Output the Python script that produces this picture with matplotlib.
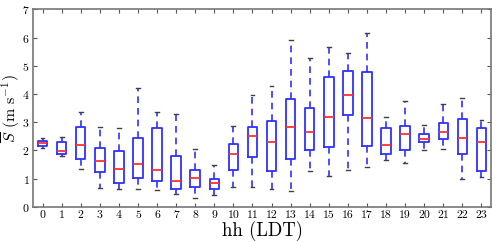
import matplotlib
matplotlib.use("Agg")
import matplotlib.pyplot as plt

# hourly wind speed box stats
hours = list(range(24))
whislo = [2.10, 1.81, 1.35, 0.66, 0.63, 0.64, 0.59, 0.46, 0.31, 0.43, 0.70, 0.72,
          0.63, 0.57, 1.28, 1.10, 1.30, 1.43, 1.67, 1.57, 2.02, 2.06, 0.98, 1.05]
q1 = [2.17, 1.87, 1.70, 1.24, 0.85, 1.03, 0.91, 0.63, 0.71, 0.65, 1.31, 1.76,
      1.29, 1.71, 2.03, 2.13, 3.27, 2.16, 1.87, 2.00, 2.29, 2.42, 1.87, 1.28]
med = [2.27, 1.99, 2.20, 1.64, 1.34, 1.52, 1.30, 0.93, 1.03, 0.84, 1.86, 2.52,
       2.30, 2.84, 2.65, 3.20, 3.96, 3.16, 2.21, 2.58, 2.41, 2.64, 2.44, 2.30]
q3 = [2.33, 2.30, 2.84, 2.08, 1.97, 2.46, 2.78, 1.82, 1.31, 1.00, 2.22, 2.85,
      3.03, 3.82, 3.49, 4.59, 4.83, 4.79, 2.81, 2.88, 2.59, 2.98, 3.11, 2.79]
whishi = [2.45, 2.48, 3.35, 2.83, 2.78, 4.21, 3.37, 3.30, 2.06, 1.50, 2.88, 3.96,
          4.30, 5.91, 5.28, 5.67, 5.45, 6.17, 3.19, 3.77, 2.91, 3.66, 3.87, 3.09]

plt.rcParams['font.family'] = 'cmr10'
plt.rcParams['mathtext.fontset'] = 'cm'
plt.rcParams['axes.formatter.use_mathtext'] = True

stats = []
for h, lo, a, m, b, hi in zip(hours, whislo, q1, med, q3, whishi):
    stats.append({'label': str(h), 'whislo': lo, 'q1': a, 'med': m, 'q3': b, 'whishi': hi, 'fliers': []})

fig = plt.figure(figsize=(5, 2.42), dpi=100)
ax = fig.add_axes([0.066, 0.145, 0.916, 0.816])

ax.bxp(stats, positions=hours, widths=0.5, showfliers=False,
       boxprops=dict(color='#3030ff', linewidth=1.3),
       medianprops=dict(color='#ff3030', linewidth=1.3),
       whiskerprops=dict(color='#3030ff', linewidth=1.2, linestyle=(0, (4, 3))),
       capprops=dict(color='#404040', linewidth=1.0), capwidths=0.2)

ax.set_xlim(-0.5, 23.5)
ax.set_ylim(0, 7)
ax.set_yticks(range(8))
ax.set_xticks(hours)
ax.set_xticklabels([str(h) for h in hours])
ax.tick_params(direction='in', top=True, right=True, labelsize=8.5, length=3, pad=2.5, color='#555555')
for s in ax.spines.values():
    s.set_color('#777777')
    s.set_linewidth(1.2)

ax.set_xlabel('hh (LDT)', fontsize=13.5, va='center')
ax.set_ylabel(r'$\overline{S}$ (m s$^{-1}$)', fontsize=11.5, va='center')
ax.xaxis.set_label_coords(0.5, -0.12)
ax.yaxis.set_label_coords(-0.05, 0.5)

fig.savefig('out.png', dpi=100)
